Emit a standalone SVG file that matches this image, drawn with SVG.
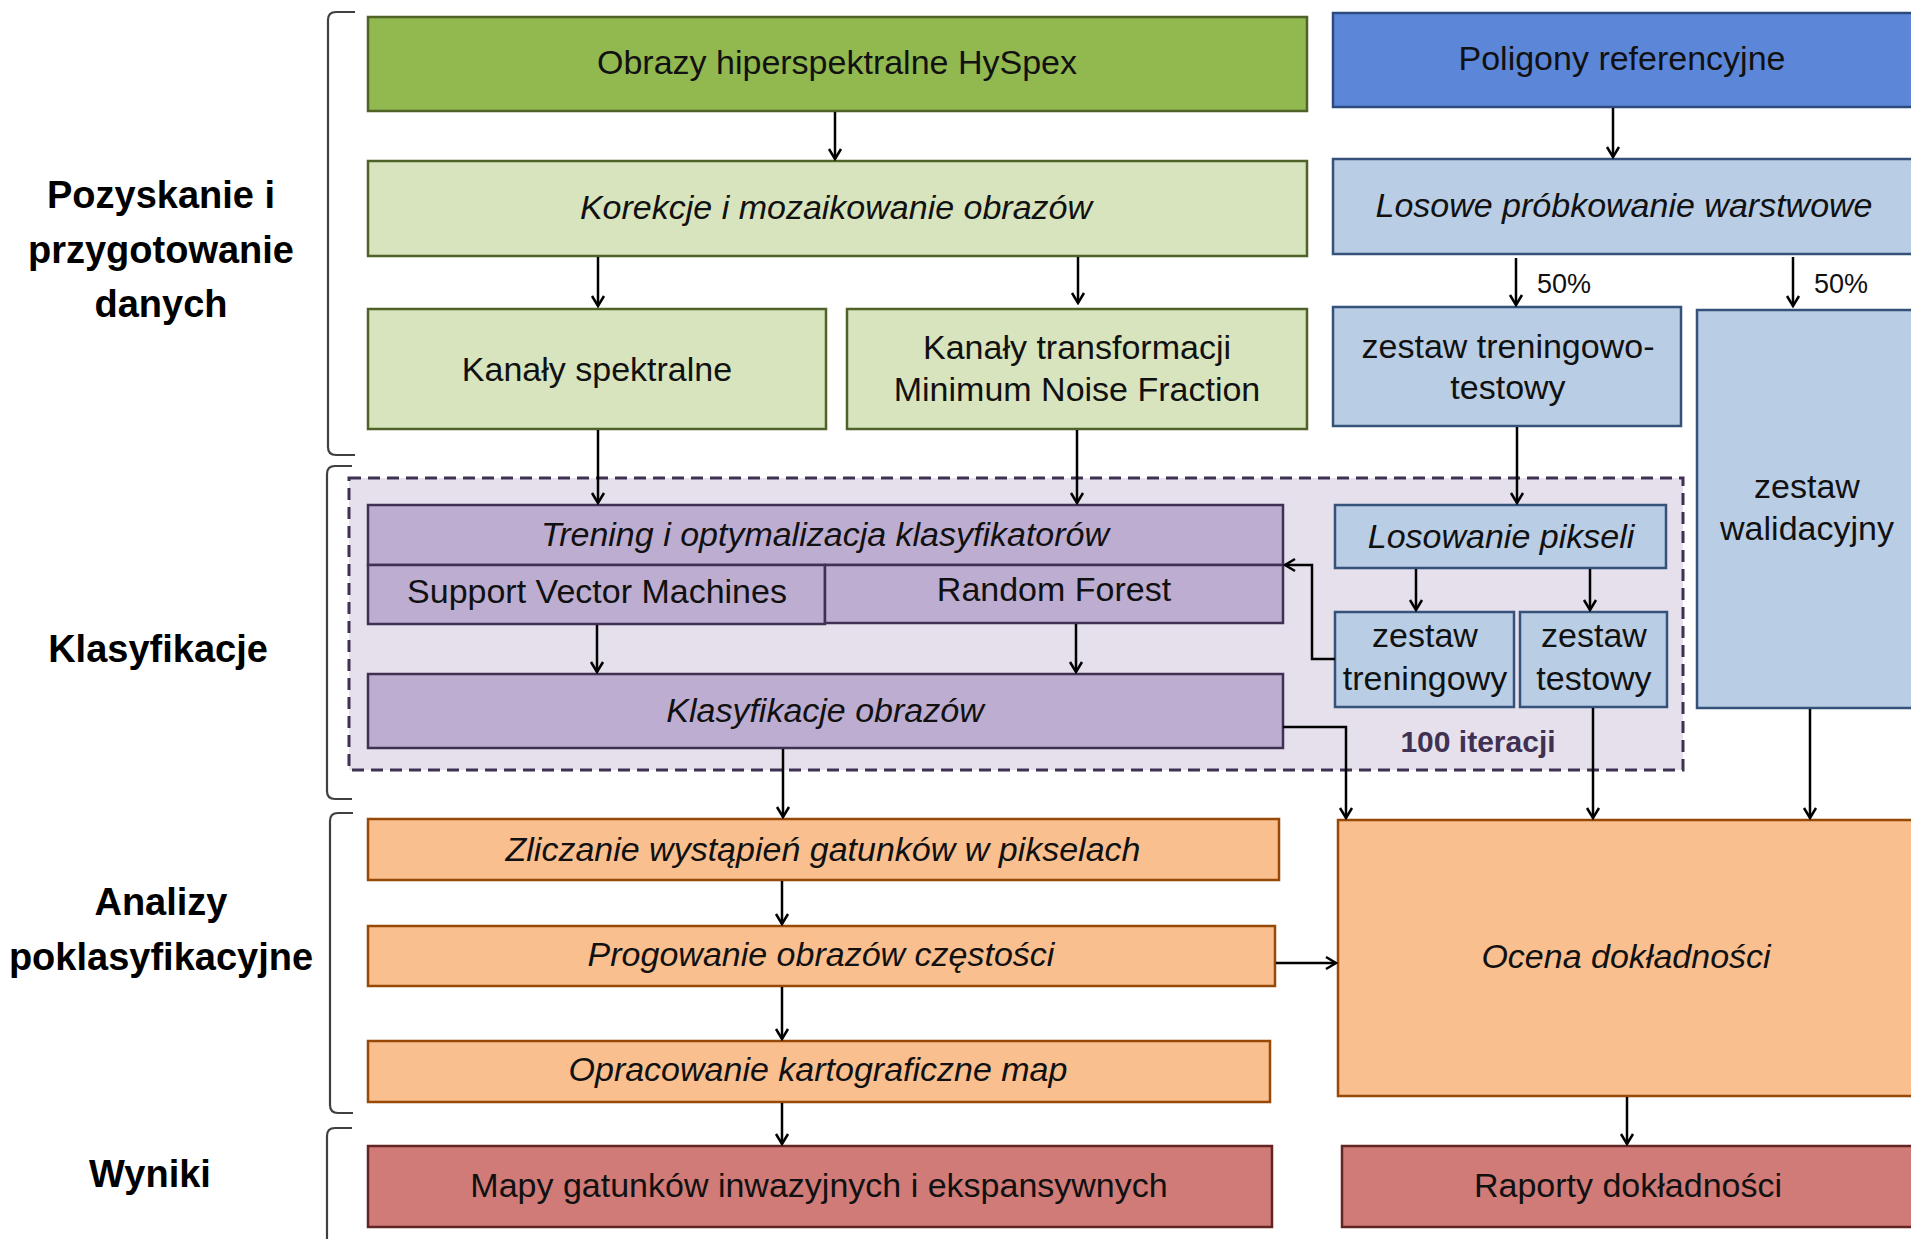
<svg xmlns="http://www.w3.org/2000/svg" width="1911" height="1239" viewBox="0 0 1911 1239">
<defs>
<style>
.t{font-family:"Liberation Sans",Arial,sans-serif;font-size:34px;fill:#111;text-anchor:middle}
.i{font-style:italic}
.lbl{font-family:"Liberation Sans",Arial,sans-serif;font-size:38px;font-weight:bold;fill:#000;text-anchor:middle}
.pct{font-family:"Liberation Sans",Arial,sans-serif;font-size:27px;fill:#111}
.g1{fill:#92b850;stroke:#4f6228;stroke-width:2.5}
.g2{fill:#d7e4bd;stroke:#4f6228;stroke-width:2.5}
.b1{fill:#5c87d8;stroke:#2e4a7d;stroke-width:2.5}
.b2{fill:#b9cde5;stroke:#34527a;stroke-width:2.5}
.p{fill:#bdadd0;stroke:#403152;stroke-width:2.5}
.o{fill:#f9bf8f;stroke:#984807;stroke-width:2.5}
.r{fill:#d07b78;stroke:#632523;stroke-width:2.5}
.br{fill:none;stroke:#404040;stroke-width:2.2}
.c{fill:none;stroke:#000;stroke-width:2.5;marker-end:url(#ah)}
</style>
<marker id="ah" viewBox="-2 -8 14 16" refX="10" refY="0" markerWidth="14" markerHeight="16" markerUnits="userSpaceOnUse" orient="auto">
<path d="M0,-6 L10,0 L0,6" fill="none" stroke="#000" stroke-width="2.5"/>
</marker>
</defs>
<rect width="1911" height="1239" fill="#fff"/>

<g id="brackets">
<path class="br" d="M355,12 H336 Q328,12 328,20 V447 Q328,455 336,455 H355"/>
<path class="br" d="M352,466 H335 Q327,466 327,474 V791 Q327,799 335,799 H352"/>
<path class="br" d="M353,813 H338 Q330,813 330,821 V1105 Q330,1113 338,1113 H353"/>
<path class="br" d="M352,1128 H335 Q327,1128 327,1136 V1245"/>
</g>

<g id="section-labels">
<text class="lbl" x="161" y="208">Pozyskanie i</text>
<text class="lbl" x="161" y="263">przygotowanie</text>
<text class="lbl" x="161" y="317">danych</text>
<text class="lbl" x="158" y="662">Klasyfikacje</text>
<text class="lbl" x="161" y="915">Analizy</text>
<text class="lbl" x="161" y="970">poklasyfikacyjne</text>
<text class="lbl" x="150" y="1187">Wyniki</text>
</g>

<g id="iteration-group">
<rect x="349" y="478" width="1334" height="292" fill="#e5e0ec" stroke="#403152" stroke-width="3" stroke-dasharray="12 7"/>
<text x="1478" y="752" font-family="'Liberation Sans',Arial,sans-serif" font-size="30" font-weight="bold" fill="#403152" text-anchor="middle">100 iteracji</text>
</g>

<g id="obrazy"><rect class="g1" x="368" y="17" width="939" height="94"/><text class="t" x="837" y="74">Obrazy hiperspektralne HySpex</text></g>
<g id="poligony"><rect class="b1" x="1333" y="13" width="600" height="94"/><text class="t" x="1622" y="70">Poligony referencyjne</text></g>
<g id="korekcje"><rect class="g2" x="368" y="161" width="939" height="95"/><text class="t i" x="836" y="219">Korekcje i mozaikowanie obrazów</text></g>
<g id="losowe"><rect class="b2" x="1333" y="159" width="600" height="95"/><text class="t i" x="1624" y="217">Losowe próbkowanie warstwowe</text></g>
<g id="kanaly"><rect class="g2" x="368" y="309" width="458" height="120"/><text class="t" x="597" y="381">Kanały spektralne</text></g>
<g id="mnf"><rect class="g2" x="847" y="309" width="460" height="120"/><text class="t" x="1077" y="359">Kanały transformacji</text><text class="t" x="1077" y="401">Minimum Noise Fraction</text></g>
<g id="treningowo-testowy"><rect class="b2" x="1333" y="307" width="348" height="119"/><text class="t" x="1508" y="358">zestaw treningowo-</text><text class="t" x="1508" y="399">testowy</text></g>
<g id="walidacyjny"><rect class="b2" x="1697" y="310" width="240" height="398"/><text class="t" x="1807" y="498">zestaw</text><text class="t" x="1807" y="540">walidacyjny</text></g>

<g id="trening"><rect class="p" x="368" y="505" width="915" height="60"/><text class="t i" x="825" y="546">Trening i optymalizacja klasyfikatorów</text></g>
<g id="svm"><rect class="p" x="368" y="565" width="457" height="59"/><text class="t" x="597" y="603">Support Vector Machines</text></g>
<g id="rf"><rect class="p" x="825" y="565" width="458" height="58"/><text class="t" x="1054" y="601">Random Forest</text></g>
<g id="klasyfikacje"><rect class="p" x="368" y="674" width="915" height="74"/><text class="t i" x="825" y="722">Klasyfikacje obrazów</text></g>
<g id="losowanie"><rect class="b2" x="1335" y="505" width="331" height="63"/><text class="t i" x="1501" y="548">Losowanie pikseli</text></g>
<g id="treningowy"><rect class="b2" x="1335" y="612" width="179" height="95"/><text class="t" x="1425" y="647">zestaw</text><text class="t" x="1425" y="690">treningowy</text></g>
<g id="testowy"><rect class="b2" x="1520" y="612" width="147" height="95"/><text class="t" x="1594" y="647">zestaw</text><text class="t" x="1594" y="690">testowy</text></g>

<g id="zliczanie"><rect class="o" x="368" y="819" width="911" height="61"/><text class="t i" x="823" y="861">Zliczanie wystąpień gatunków w pikselach</text></g>
<g id="progowanie"><rect class="o" x="368" y="926" width="907" height="60"/><text class="t i" x="821" y="966">Progowanie obrazów częstości</text></g>
<g id="opracowanie"><rect class="o" x="368" y="1041" width="902" height="61"/><text class="t i" x="818" y="1081">Opracowanie kartograficzne map</text></g>
<g id="ocena"><rect class="o" x="1338" y="820" width="600" height="276"/><text class="t i" x="1626" y="968">Ocena dokładności</text></g>
<g id="mapy"><rect class="r" x="368" y="1146" width="904" height="81"/><text class="t" x="819" y="1197">Mapy gatunków inwazyjnych i ekspansywnych</text></g>
<g id="raporty"><rect class="r" x="1342" y="1146" width="600" height="81"/><text class="t" x="1628" y="1197">Raporty dokładności</text></g>

<g id="connectors">
<path class="c" d="M835,112 V159"/>
<path class="c" d="M1613,108 V157"/>
<path class="c" d="M598,257 V306"/>
<path class="c" d="M1078,257 V303"/>
<path class="c" d="M1516,258 V305"/>
<path class="c" d="M1793,257 V306"/>
<path class="c" d="M598,430 V503"/>
<path class="c" d="M1077,430 V503"/>
<path class="c" d="M1517,427 V503"/>
<path class="c" d="M597,625 V672"/>
<path class="c" d="M1076,624 V672"/>
<path class="c" d="M1416,569 V610"/>
<path class="c" d="M1590,569 V610"/>
<path class="c" d="M1335,659 H1312 V565 H1285"/>
<path class="c" d="M1283,727 H1346 V818"/>
<path class="c" d="M783,749 V817"/>
<path class="c" d="M1593,708 V818"/>
<path class="c" d="M1810,709 V818"/>
<path class="c" d="M782,881 V924"/>
<path class="c" d="M1276,963 H1336"/>
<path class="c" d="M782,987 V1039"/>
<path class="c" d="M782,1103 V1144"/>
<path class="c" d="M1627,1097 V1144"/>
<text class="pct" x="1537" y="293">50%</text>
<text class="pct" x="1814" y="293">50%</text>
</g>
</svg>
